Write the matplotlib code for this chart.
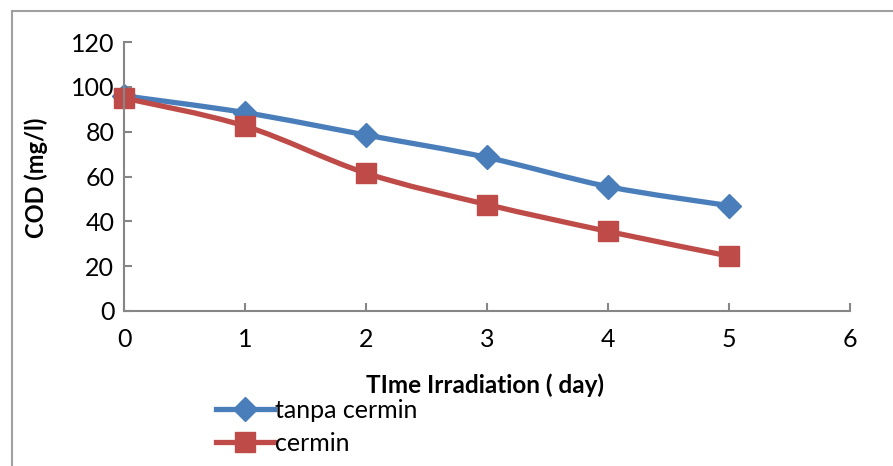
import matplotlib.pyplot as plt
from matplotlib.lines import Line2D
from matplotlib.path import Path
from matplotlib.patches import PathPatch

days = [0, 1, 2, 3, 4, 5]
tanpa_cermin = [96, 88.5, 78.5, 68.5, 55.5, 47]
cermin = [95, 82.5, 61.5, 47.5, 35.5, 24.5]

plt.rcParams['font.family'] = ['Lato', 'DejaVu Sans']


def smooth_path(x, y):
    # Excel-like smoothed line: cubic Bezier segments through the data points
    pts = list(zip(x, y))
    n = len(pts)
    verts = [pts[0]]
    codes = [Path.MOVETO]
    for i in range(n - 1):
        p0 = pts[max(i - 1, 0)]
        p1 = pts[i]
        p2 = pts[i + 1]
        p3 = pts[min(i + 2, n - 1)]
        c1 = (p1[0] + (p2[0] - p0[0]) / 6, p1[1] + (p2[1] - p0[1]) / 6)
        c2 = (p2[0] - (p3[0] - p1[0]) / 6, p2[1] - (p3[1] - p1[1]) / 6)
        verts += [c1, c2, p2]
        codes += [Path.CURVE4] * 3
    return Path(verts, codes)


fig = plt.figure(figsize=(8.93, 4.66), dpi=100)
ax = fig.add_axes([124/893, 1-311/466, (850-124)/893, (311-42)/466])

series = [
    (tanpa_cermin, '#4A7EBB', 'D', 12, 'tanpa cermin'),
    (cermin, '#BE4B48', 's', 14, 'cermin'),
]
handles = []
for vals, col, mk, ms, lab in series:
    ax.add_patch(PathPatch(smooth_path(days, vals), fill=False, edgecolor=col,
                           lw=3.8, capstyle='round', clip_on=False))
    ax.plot(days, vals, ls='none', marker=mk, markersize=ms, color=col,
            clip_on=False)
    handles.append(Line2D([], [], color=col, lw=3.8, marker=mk, markersize=ms))

ax.set_xlim(0, 6)
ax.set_ylim(0, 120)
ax.set_xticks(range(0, 7))
ax.set_yticks(range(0, 121, 20))

for s in ['top', 'right']:
    ax.spines[s].set_visible(False)
for s in ['left', 'bottom']:
    ax.spines[s].set_color('#868686')
    ax.spines[s].set_linewidth(1.5)
ax.tick_params(direction='in', length=6, width=1.5, color='#868686',
               labelsize=18, pad=7)
ax.tick_params(axis='x', pad=12)

fig.text(36/893, 1-178/466, 'COD (mg/l)', rotation=90, fontsize=17,
         fontweight='bold', ha='center', va='center')
fig.text(485/893, 1-385/466, 'TIme Irradiation ( day)', fontsize=17.5,
         fontweight='bold', ha='center', va='center')

fig.legend(handles, [s[4] for s in series], loc='upper left',
           bbox_to_anchor=(206/893, 1-389/466),
           frameon=False, fontsize=18, handlelength=2.3,
           handletextpad=0.05, labelspacing=0.4, borderaxespad=0)

# outer chart border (only top and left visible in the crop)
fig.add_artist(Line2D([12/893, 12/893], [0, 1-11/466], color='#A0A0A0', lw=1.5))
fig.add_artist(Line2D([12/893, 1], [1-11/466, 1-11/466], color='#A0A0A0', lw=1.5))

fig.savefig('out.png', dpi=100)
